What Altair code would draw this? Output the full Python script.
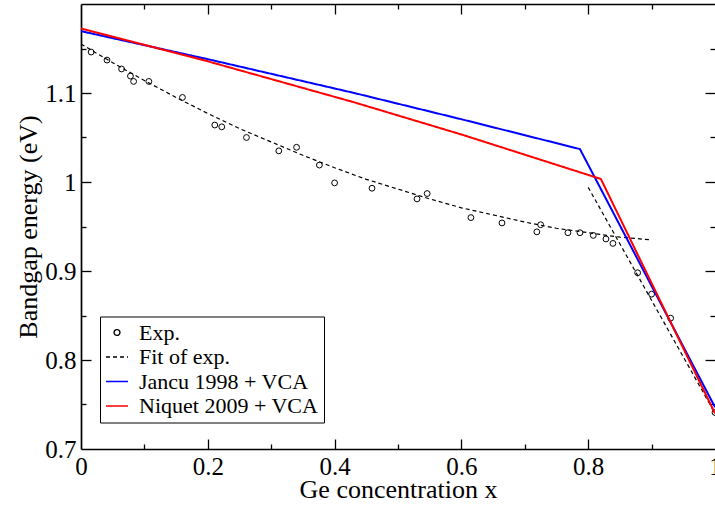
import altair as alt
import pandas as pd

# ---------------- data ----------------
exp_x = [0.016, 0.041, 0.064, 0.078, 0.083, 0.107, 0.160, 0.211, 0.222, 0.261,
         0.312, 0.340, 0.376, 0.400, 0.459, 0.530, 0.546, 0.615, 0.664, 0.719,
         0.725, 0.768, 0.787, 0.808, 0.828, 0.839, 0.878, 0.900, 0.930, 1.000]
exp_y = [1.146, 1.137, 1.127, 1.119, 1.113, 1.113, 1.095, 1.064, 1.062, 1.050,
         1.035, 1.039, 1.019, 0.999, 0.993, 0.981, 0.987, 0.960, 0.954, 0.944,
         0.952, 0.943, 0.943, 0.940, 0.936, 0.931, 0.898, 0.874, 0.847, 0.741]

fit_x = [0.00, 0.05, 0.10, 0.15, 0.20, 0.25, 0.30, 0.35, 0.40, 0.45,
         0.50, 0.55, 0.60, 0.65, 0.70, 0.75, 0.80, 0.85, 0.90]
fit_y = [1.155, 1.134, 1.114, 1.095, 1.077, 1.060, 1.045, 1.030, 1.016, 1.003,
         0.992, 0.981, 0.971, 0.963, 0.955, 0.948, 0.943, 0.938, 0.935]
fit2_x = [0.80, 1.00]
fit2_y = [0.994, 0.740]

jancu_x = [0.0, 0.2, 0.431, 0.6, 0.787, 1.0]
jancu_y = [1.1695, 1.138, 1.100, 1.0705, 1.037, 0.747]
niquet_x = [0.0, 0.2, 0.431, 0.6, 0.820, 1.0]
niquet_y = [1.1725, 1.1356, 1.0895, 1.0534, 1.0034, 0.740]

series_names = ["Exp.", "Fit of exp.", "Jancu 1998 + VCA", "Niquet 2009 + VCA"]
series_colors = ["black", "black", "#0000ff", "#ff0000"]
series_shapes = ["circle", "stroke", "stroke", "stroke"]
series_sizes = [34, 484, 484, 484]
series_dashes = [[1, 0], [4, 3], [1, 0], [1, 0]]

x_labels = [0, 0.2, 0.4, 0.6, 0.8, 1.0]
y_labels = [0.7, 0.8, 0.9, 1.0, 1.1]
x_major = [0.2, 0.4, 0.6, 0.8]
x_minor = [0.1, 0.3, 0.5, 0.7, 0.9]
y_major = [0.8, 0.9, 1.0, 1.1]
y_minor = [0.75, 0.85, 0.95, 1.05, 1.15]

# ---------------- tables ----------------
exp_df = pd.DataFrame({"x": exp_x, "y": exp_y, "series": "Exp."})
fit_df = pd.concat([
    pd.DataFrame({"x": fit_x, "y": fit_y, "series": "Fit of exp.", "seg": "a"}),
    pd.DataFrame({"x": fit2_x, "y": fit2_y, "series": "Fit of exp.", "seg": "b"}),
], ignore_index=True)
model_df = pd.concat([
    pd.DataFrame({"x": jancu_x, "y": jancu_y, "series": "Jancu 1998 + VCA", "seg": "j"}),
    pd.DataFrame({"x": niquet_x, "y": niquet_y, "series": "Niquet 2009 + VCA", "seg": "n"}),
], ignore_index=True)

FONT = "Liberation Serif, Times New Roman, Times, serif"
xs = alt.Scale(domain=[0, 1], nice=False, zero=False)
ys = alt.Scale(domain=[0.7, 1.2], nice=False, zero=False)


def tick_axis(orient, values, size):
    return alt.Axis(orient=orient, values=values, tickSize=size, offset=-size,
                    labels=False, domain=False, title=None, grid=False, ticks=True)


leg = alt.Legend(title=None)
color = alt.Color("series:N", scale=alt.Scale(domain=series_names, range=series_colors), legend=leg)
shape = alt.Shape("series:N", scale=alt.Scale(domain=series_names, range=series_shapes), legend=leg)
size = alt.Size("series:N", scale=alt.Scale(type="ordinal", domain=series_names, range=series_sizes), legend=leg)
dash = alt.StrokeDash("series:N", scale=alt.Scale(domain=series_names, range=series_dashes), legend=leg)

label_x_axis = alt.Axis(orient="bottom", values=x_labels, format=".1~f", ticks=False,
                        labelPadding=5, title="Ge concentration x", titleBaseline="alphabetic",
                        titleY=48, domain=True, grid=False)
label_y_axis = alt.Axis(orient="left", values=y_labels, format=".1~f", ticks=False,
                        labelPadding=5, title="Bandgap energy (eV)", titleBaseline="alphabetic",
                        titleX=-45, titleAngle=270, domain=True, grid=False)

fit_layer = alt.Chart(fit_df).mark_line(strokeWidth=1.2).encode(
    x=alt.X("x:Q", scale=xs, axis=label_x_axis),
    y=alt.Y("y:Q", scale=ys, axis=label_y_axis),
    color=color, strokeDash=dash, detail="seg:N",
)

pts_layer = alt.Chart(exp_df).mark_point(filled=False, strokeWidth=1, opacity=1).encode(
    x=alt.X("x:Q", scale=xs, axis=tick_axis("bottom", x_major, 10)),
    y=alt.Y("y:Q", scale=ys, axis=tick_axis("left", y_major, 10)),
    color=color, shape=shape, size=size,
)

model_layer = alt.Chart(model_df).mark_line(strokeWidth=2).encode(
    x=alt.X("x:Q", scale=xs, axis=tick_axis("bottom", x_minor, 5)),
    y=alt.Y("y:Q", scale=ys, axis=tick_axis("left", y_minor, 5)),
    color=color, strokeDash=dash, detail="seg:N",
)

top_major = alt.Chart(exp_df).mark_point(opacity=0).encode(
    x=alt.X("x:Q", scale=xs, axis=tick_axis("top", x_major, 10)),
    y=alt.Y("y:Q", scale=ys, axis=tick_axis("right", y_major, 10)),
)
top_minor = alt.Chart(exp_df).mark_point(opacity=0).encode(
    x=alt.X("x:Q", scale=xs, axis=tick_axis("top", x_minor, 5)),
    y=alt.Y("y:Q", scale=ys, axis=tick_axis("right", y_minor, 5)),
)
top_frame = alt.Chart(exp_df).mark_point(opacity=0).encode(
    x=alt.X("x:Q", scale=xs, axis=alt.Axis(orient="top", labels=False, ticks=False,
                                            domain=True, title=None, grid=False)),
    y=alt.Y("y:Q", scale=ys, axis=None),
)

chart = alt.layer(
    fit_layer, pts_layer, model_layer, top_major, top_minor, top_frame
).resolve_axis(
    x="independent", y="independent"
).properties(
    width=634, height=445,
    autosize=alt.AutoSizeParams(type="none"),
    padding={"left": 81, "top": 4, "right": 0, "bottom": 58},
).configure(
    font=FONT
).configure_view(
    stroke=None
).configure_axis(
    labelFont=FONT, labelFontSize=25, labelColor="black",
    titleFont=FONT, titleFontSize=26, titleColor="black", titleFontWeight="normal",
    domainColor="black", domainWidth=1.7, tickColor="black", tickWidth=1.3,
    grid=False, labelFlush=False,
).configure_legend(
    orient="none", legendX=19, legendY=312.5,
    labelFont=FONT, labelFontSize=22, labelColor="black", labelLimit=400,
    strokeColor="black", fillColor="white", padding=5, rowPadding=1.5,
    labelOffset=10, symbolStrokeWidth=1.4,
)

chart.save("out.html", embed_options={"renderer": "svg", "actions": False})
